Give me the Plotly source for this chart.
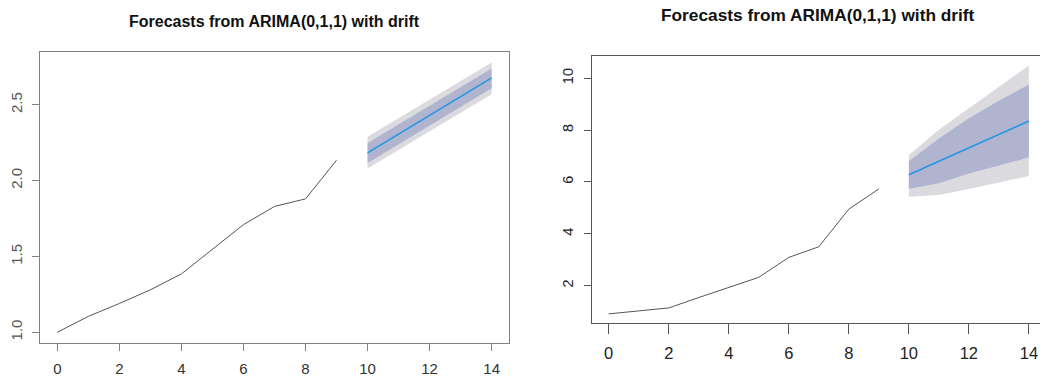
import plotly.graph_objects as go

# ---- data ----
hist_x = [0, 1, 2, 3, 4, 5, 6, 7, 8, 9]
fc_x = [10, 11, 12, 13, 14]

left_hist = [1.00, 1.105, 1.19, 1.28, 1.385, 1.545, 1.71, 1.83, 1.88, 2.135]
left_mean = [2.183, 2.307, 2.430, 2.554, 2.678]
left_lo80 = [2.117, 2.241, 2.364, 2.488, 2.610]
left_hi80 = [2.249, 2.373, 2.496, 2.620, 2.740]
left_lo95 = [2.080, 2.203, 2.326, 2.450, 2.570]
left_hi95 = [2.290, 2.413, 2.537, 2.660, 2.780]

right_hist = [0.91, 1.02, 1.14, 1.54, 1.94, 2.32, 3.09, 3.50, 4.95, 5.73]
right_mean = [6.28, 6.80, 7.31, 7.83, 8.35]
right_lo80 = [5.74, 5.95, 6.33, 6.63, 6.95]
right_hi80 = [6.80, 7.68, 8.46, 9.13, 9.76]
right_lo95 = [5.43, 5.50, 5.73, 5.97, 6.23]
right_hi95 = [7.04, 8.01, 8.84, 9.65, 10.49]

title_text = "Forecasts from ARIMA(0,1,1) with drift"
x_ticks = [0, 2, 4, 6, 8, 10, 12, 14]
left_yticks = [1.0, 1.5, 2.0, 2.5]
left_yticklabels = ["1.0", "1.5", "2.0", "2.5"]
right_yticks = [2, 4, 6, 8, 10]

C95 = "#dadadf"
C80 = "#b1b4cf"
CFC = "#2297e6"
CHIST = "#555555"
W, H = 1040, 378

fig = go.Figure()


def add_panel(xa, ya, hist, mean, lo80, hi80, lo95, hi95):
    fig.add_trace(go.Scatter(x=fc_x + fc_x[::-1], y=hi95 + lo95[::-1], fill="toself",
                             fillcolor=C95, line=dict(width=0), mode="lines",
                             xaxis=xa, yaxis=ya, hoverinfo="skip", showlegend=False))
    fig.add_trace(go.Scatter(x=fc_x + fc_x[::-1], y=hi80 + lo80[::-1], fill="toself",
                             fillcolor=C80, line=dict(width=0), mode="lines",
                             xaxis=xa, yaxis=ya, hoverinfo="skip", showlegend=False))
    fig.add_trace(go.Scatter(x=fc_x, y=mean, mode="lines", line=dict(color=CFC, width=1.6),
                             xaxis=xa, yaxis=ya, showlegend=False))
    fig.add_trace(go.Scatter(x=hist_x, y=hist, mode="lines", line=dict(color=CHIST, width=1),
                             xaxis=xa, yaxis=ya, showlegend=False))


add_panel("x", "y", left_hist, left_mean, left_lo80, left_hi80, left_lo95, left_hi95)
add_panel("x2", "y2", right_hist, right_mean, right_lo80, right_hi80, right_lo95, right_hi95)

font = "Liberation Sans, Arial, sans-serif"
axcommon = dict(showgrid=False, zeroline=False, showline=True, ticks="outside",
                linewidth=1)

fig.update_layout(
    width=W, height=H,
    margin=dict(l=0, r=0, t=0, b=0),
    paper_bgcolor="white", plot_bgcolor="white",
    font=dict(family=font, size=13, color="#333333"),
    showlegend=False,
    xaxis=dict(domain=[40 / W, 509 / W], range=[-0.56, 14.56], tickvals=x_ticks,
               mirror=True, linecolor="#808080", tickcolor="#808080", ticklen=7,
               ticklabelstandoff=5, tickfont=dict(size=15, color="#333333"),
               anchor="y", **axcommon),
    yaxis=dict(domain=[1 - 343 / H, 1 - 52 / H], range=[0.929, 2.849],
               tickvals=left_yticks, ticktext=left_yticklabels, tickangle=-90,
               mirror=True, linecolor="#808080", tickcolor="#808080", ticklen=7,
               ticklabelstandoff=4, tickfont=dict(size=15, color="#555555"),
               anchor="x", **axcommon),
    xaxis2=dict(domain=[592.3 / W, 1.0], range=[-0.546, 14.37], tickvals=x_ticks,
                mirror=True, linecolor="#555555", tickcolor="#555555", ticklen=10,
                ticklabelstandoff=5, tickfont=dict(size=16.5, color="#222222"),
                anchor="y2", **axcommon),
    yaxis2=dict(domain=[1 - 323.3 / H, 1 - 55.7 / H], range=[0.547, 10.87],
                tickvals=right_yticks, tickangle=-90,
                linecolor="#555555", tickcolor="#555555", ticklen=7,
                ticklabelstandoff=6, tickfont=dict(size=14.5, color="#222222"),
                anchor="x2", **axcommon),
    annotations=[
        dict(text="<b>" + title_text + "</b>", x=274 / W, y=1 - 21 / H, xref="paper",
             yref="paper", showarrow=False, xanchor="center", yanchor="middle",
             font=dict(family=font, size=16, color="#111111")),
        dict(text="<b>" + title_text + "</b>", x=818 / W, y=1 - 15 / H, xref="paper",
             yref="paper", showarrow=False, xanchor="center", yanchor="middle",
             font=dict(family=font, size=17.3, color="#111111")),
    ],
)

fig.write_html("out.html", config={"displayModeBar": False},
               post_script="document.body.style.margin='0';document.body.style.overflow='hidden';")
